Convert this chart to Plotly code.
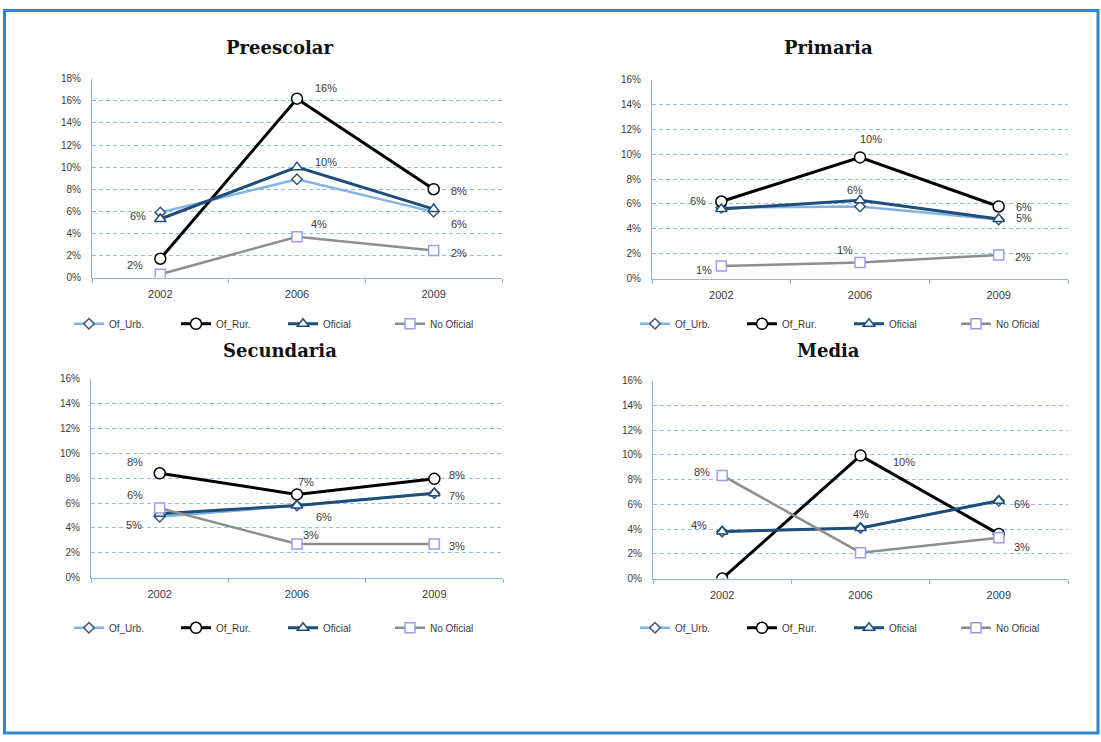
import plotly.graph_objects as go

# ---- data -------------------------------------------------------------
years = ["2002", "2006", "2009"]
series_names = ["Of_Urb.", "Of_Rur.", "Oficial", "No Oficial"]
panel_titles = ["Preescolar", "Primaria", "Secundaria", "Media"]
y_tick_values = [0.00, 0.02, 0.04, 0.06, 0.08, 0.10, 0.12, 0.14, 0.16, 0.18]

preescolar_urb = [0.059, 0.089, 0.0595]
preescolar_rur = [0.017, 0.162, 0.080]
preescolar_ofi = [0.053, 0.100, 0.062]
preescolar_nof = [0.003, 0.037, 0.0245]

primaria_urb = [0.057, 0.058, 0.0475]
primaria_rur = [0.062, 0.0975, 0.058]
primaria_ofi = [0.056, 0.063, 0.048]
primaria_nof = [0.010, 0.013, 0.019]

secundaria_urb = [0.049, 0.058, 0.068]
secundaria_rur = [0.084, 0.067, 0.0795]
secundaria_ofi = [0.0515, 0.058, 0.068]
secundaria_nof = [0.056, 0.027, 0.027]

media_urb = [0.038, 0.041, 0.063]
media_rur = [0.000, 0.0995, 0.036]
media_ofi = [0.038, 0.041, 0.063]
media_nof = [0.0835, 0.021, 0.033]

panel_data = [
    [preescolar_urb, preescolar_rur, preescolar_ofi, preescolar_nof],
    [primaria_urb, primaria_rur, primaria_ofi, primaria_nof],
    [secundaria_urb, secundaria_rur, secundaria_ofi, secundaria_nof],
    [media_urb, media_rur, media_ofi, media_nof],
]
panel_ymax = [0.18, 0.16, 0.16, 0.16]

# ---- styling ----------------------------------------------------------
W, H = 1101, 742
FONT = "Liberation Sans"
TXT = "#3a3a3a"
GRID = "#93bfe6"
AXIS = "#8db6de"

line_colors = ["#80b3e6", "#000000", "#1f4e79", "#8a8f8f"]
line_widths = [2.5, 3, 3, 2.5]
marker_symbols = ["diamond", "circle", "triangle-up", "square"]
marker_sizes = [8, 11, 10, 10]
marker_lines = ["#3b5573", "#000000", "#1f4e79", "#9f9bf0"]

# pixel boxes of the four plot areas: (left, right, top, bottom)
boxes = [
    (92, 502, 74, 276),
    (652, 1068, 75, 277),
    (91, 503, 379, 581),
    (653, 1068, 381, 582),
]
title_pos = [(280, 42), (828, 42), (280, 350), (828, 350)]
legend_pos = [(283, 323), (849, 323), (283, 632), (849, 632)]

# data-label placement: (panel, series, point, dx px, dy px)
label_spots = [
    (0, 1, 0, -25, 6), (0, 1, 1, 29, -11), (0, 1, 2, 25, 2),
    (0, 2, 1, 29, -5), (0, 2, 2, 25, 15), (0, 0, 0, -22, 4),
    (0, 3, 1, 22, -13), (0, 3, 2, 25, 3),
    (1, 1, 0, -23, -1), (1, 1, 1, 11, -18), (1, 2, 1, -5, -10),
    (1, 1, 2, 25, 1), (1, 2, 2, 25, -1), (1, 3, 0, -17, 4),
    (1, 3, 1, -15, -12), (1, 3, 2, 24, 2),
    (2, 1, 0, -25, -11), (2, 3, 0, -25, -13), (2, 0, 0, -26, 8),
    (2, 1, 1, 9, -12), (2, 2, 1, 27, 11), (2, 3, 1, 14, -9),
    (2, 1, 2, 23, -4), (2, 2, 2, 23, 3), (2, 3, 2, 23, 2),
    (3, 3, 0, -20, -3), (3, 2, 0, -23, -7), (3, 1, 1, 43, 6),
    (3, 2, 1, 0, -14), (3, 2, 2, 23, 3), (3, 3, 2, 23, 9),
]


def px_x(p):
    return p / W


def px_y(p):
    return 1 - p / H


def pct(v):
    return f"{int(v * 100 + 0.5)}%"


fig = go.Figure()
annotations = []
layout_axes = {}

for p, series in enumerate(panel_data):
    sfx = "" if p == 0 else str(p + 1)
    leg = "legend" if p == 0 else f"legend{p + 1}"
    for s, values in enumerate(series):
        fig.add_trace(go.Scatter(
            x=years, y=values, name=series_names[s],
            mode="lines+markers",
            line=dict(color=line_colors[s], width=line_widths[s]),
            marker=dict(symbol=marker_symbols[s], size=marker_sizes[s],
                        color="white",
                        line=dict(color=marker_lines[s], width=1.5)),
            xaxis="x" + sfx, yaxis="y" + sfx, legend=leg,
            hoverinfo="skip",
        ))

    left, right, top, bottom = boxes[p]
    ymax = panel_ymax[p]
    ticks = [t for t in y_tick_values if t <= ymax + 1e-9]
    layout_axes["xaxis" + sfx] = dict(
        domain=[px_x(left), px_x(right)], anchor="y" + sfx,
        type="category", range=[-0.5, 2.5],
        showline=True, linecolor=AXIS, linewidth=1.2,
        showgrid=False, zeroline=False,
        ticks="outside", ticklen=4, tickcolor=AXIS, tickson="boundaries",
        ticklabelstandoff=6,
        tickfont=dict(family=FONT, size=11, color=TXT),
    )
    layout_axes["yaxis" + sfx] = dict(
        domain=[px_y(bottom), px_y(top)], anchor="x" + sfx,
        range=[0, ymax], tickvals=ticks,
        ticktext=[pct(t) for t in ticks],
        showline=True, linecolor=AXIS, linewidth=1.2,
        showgrid=True, gridcolor=GRID, griddash="4px,3px", gridwidth=1,
        zeroline=False, ticks="", ticklabelstandoff=8,
        tickfont=dict(family=FONT, size=10, color=TXT),
    )
    tx, ty = title_pos[p]
    annotations.append(dict(
        text=f"<b>{panel_titles[p]}</b>", x=px_x(tx), y=px_y(ty),
        xref="paper", yref="paper", xanchor="center", yanchor="middle",
        showarrow=False,
        font=dict(family="DejaVu Serif", size=18, color="#111111"),
    ))
    lx, ly = legend_pos[p]
    layout_axes[leg] = dict(
        orientation="h", x=px_x(lx), y=px_y(ly),
        xanchor="center", yanchor="middle",
        font=dict(family=FONT, size=10, color=TXT),
        itemwidth=30, entrywidthmode="pixels", entrywidth=62,
        bgcolor="rgba(0,0,0,0)", tracegroupgap=0,
    )

# data labels; x is the category index on each category axis
for p, s, i, dx, dy in label_spots:
    sfx = "" if p == 0 else str(p + 1)
    v = panel_data[p][s][i]
    annotations.append(dict(
        text=pct(v), x=i, y=v, xref="x" + sfx, yref="y" + sfx,
        xshift=dx, yshift=-dy, showarrow=False,
        xanchor="center", yanchor="middle",
        font=dict(family=FONT, size=11, color=TXT),
    ))

fig.update_layout(
    width=W, height=H,
    margin=dict(l=0, r=0, t=0, b=0),
    paper_bgcolor="white", plot_bgcolor="white",
    showlegend=True,
    annotations=annotations,
    shapes=[dict(type="rect", xref="paper", yref="paper",
                 x0=px_x(4.5), x1=px_x(1098), y0=px_y(739), y1=px_y(4.5),
                 line=dict(color="#2f86c9", width=3))],
    **layout_axes,
)

fig.write_html("out.html")
